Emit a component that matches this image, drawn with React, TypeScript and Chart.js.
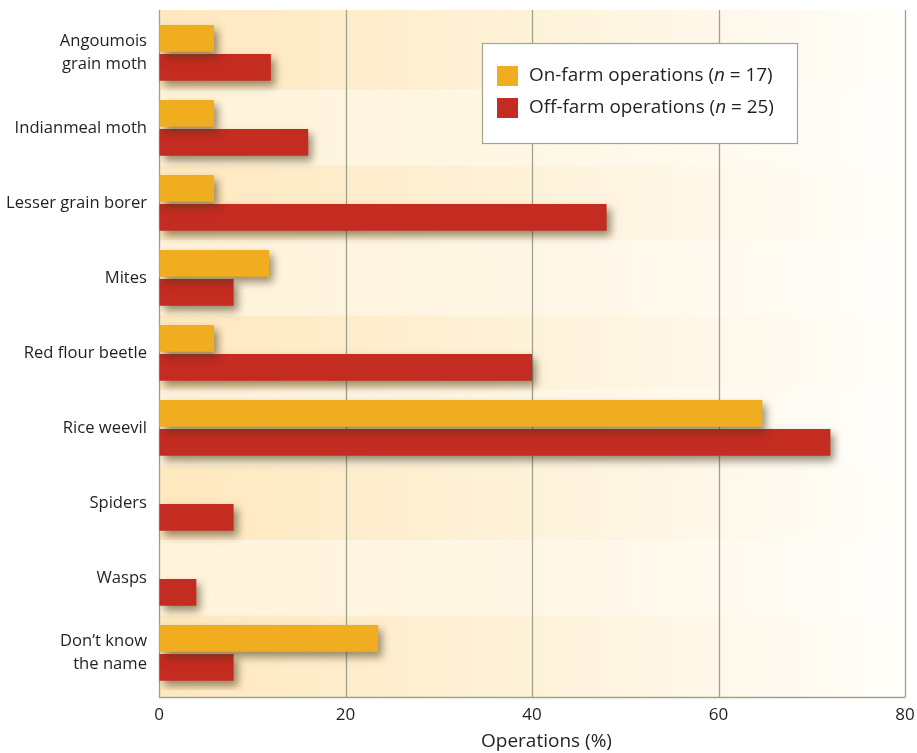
import React, { useEffect, useRef } from "react";
import { Chart, registerables } from "chart.js";

Chart.register(...registerables);

const categories: (string | string[])[] = [
  ["Angoumois", "grain moth"],
  "Indianmeal moth",
  "Lesser grain borer",
  "Mites",
  "Red flour beetle",
  "Rice weevil",
  "Spiders",
  "Wasps",
  ["Don\u2019t know", "the name"],
];
const onFarm = [5.9, 5.9, 5.9, 11.8, 5.9, 64.7, 0, 0, 23.5];
const offFarm = [12, 16, 48, 8, 40, 72, 8, 4, 8];
const seriesNames = ["On-farm operations", "Off-farm operations"];
const seriesN = [17, 25];
const seriesColors = ["#F0AD20", "#C42B21"];
const xTicks = [0, 20, 40, 60, 80];
const xTitle = "Operations (%)";

const FONT = '"Open Sans", "DejaVu Sans", sans-serif';

const decorPlugin = {
  id: "decor",
  beforeDatasetsDraw(chart: any) {
    const { ctx, chartArea: ca, scales } = chart;
    const x = scales.x;
    const y = scales.y;
    const top = ca.top - 5.3;
    const bottom = ca.bottom + 6.7;
    const left = x.getPixelForValue(xTicks[0]);
    const right = x.getPixelForValue(xTicks[xTicks.length - 1]);
    const n = categories.length;
    const half = (y.getPixelForValue(1) - y.getPixelForValue(0)) / 2;
    ctx.save();
    for (let i = 0; i < n; i++) {
      const c = y.getPixelForValue(i);
      const t = i === 0 ? top : c - half;
      const b = i === n - 1 ? bottom : c + half;
      const g = ctx.createLinearGradient(left, 0, right, 0);
      if (i % 2 === 0) {
        g.addColorStop(0, "#FEE8BE");
        g.addColorStop(0.45, "#FEF1D6");
        g.addColorStop(0.75, "#FFF8EA");
        g.addColorStop(1, "#FFFEFA");
      } else {
        g.addColorStop(0, "#FFF3DA");
        g.addColorStop(0.45, "#FFF6E4");
        g.addColorStop(0.75, "#FFFAEF");
        g.addColorStop(1, "#FFFEFB");
      }
      ctx.fillStyle = g;
      ctx.fillRect(left, t, right - left, b - t);
    }
    ctx.strokeStyle = "#9DA28A";
    ctx.lineWidth = 1.3;
    xTicks.forEach((v) => {
      const px = Math.round(x.getPixelForValue(v)) + 0.5;
      ctx.beginPath();
      ctx.moveTo(px, top);
      ctx.lineTo(px, bottom);
      ctx.stroke();
    });
    ctx.beginPath();
    ctx.moveTo(left, Math.round(bottom) + 0.5);
    ctx.lineTo(right + 0.5, Math.round(bottom) + 0.5);
    ctx.stroke();
    ctx.restore();
  },
  beforeDatasetDraw(chart: any) {
    const ctx = chart.ctx;
    ctx.save();
    ctx.shadowColor = "rgba(70, 55, 20, 0.55)";
    ctx.shadowBlur = 8;
    ctx.shadowOffsetX = 4;
    ctx.shadowOffsetY = 5;
  },
  afterDatasetDraw(chart: any) {
    chart.ctx.restore();
  },
  afterDraw(chart: any) {
    const ctx = chart.ctx;
    const bx = 482.5, by = 43.5, bw = 315, bh = 100;
    ctx.save();
    ctx.fillStyle = "#FFFFFF";
    ctx.fillRect(bx, by, bw, bh);
    ctx.strokeStyle = "#A3A68F";
    ctx.lineWidth = 1.2;
    ctx.strokeRect(bx, by, bw, bh);
    const rows = [76, 108];
    seriesNames.forEach((name, i) => {
      const cy = rows[i];
      ctx.fillStyle = seriesColors[i];
      ctx.fillRect(497, cy - 10, 21, 20);
      const parts: [string, boolean][] = [
        [name + " (", false],
        ["n", true],
        [" = " + seriesN[i] + ")", false],
      ];
      let tx = 529;
      ctx.textBaseline = "middle";
      ctx.fillStyle = "#231F20";
      parts.forEach(([txt, ital]) => {
        ctx.font = (ital ? "italic " : "") + "18.9px " + FONT;
        ctx.fillText(txt, tx, cy);
        tx += ctx.measureText(txt).width;
      });
    });
    // axis title
    ctx.font = "19px " + FONT;
    ctx.textAlign = "center";
    ctx.textBaseline = "middle";
    ctx.fillStyle = "#231F20";
    ctx.fillText(xTitle, 546.5, 742);
    ctx.restore();
  },
};

export default function App() {
  const ref = useRef<HTMLCanvasElement | null>(null);
  useEffect(() => {
    document.body.style.margin = "0";
    const canvas = ref.current;
    if (!canvas) return;
    const chart = new Chart(canvas, {
      type: "bar",
      data: {
        labels: categories as any,
        datasets: [
          {
            label: seriesNames[0],
            data: onFarm,
            backgroundColor: seriesColors[0],
            categoryPercentage: 0.773,
            barPercentage: 0.92,
          },
          {
            label: seriesNames[1],
            data: offFarm,
            backgroundColor: seriesColors[1],
            categoryPercentage: 0.773,
            barPercentage: 0.92,
          },
        ],
      },
      options: {
        indexAxis: "y",
        animation: false,
        responsive: false,
        devicePixelRatio: 1,
        layout: { padding: { top: 15.3, right: 12, left: 0, bottom: 0 } },
        plugins: {
          legend: { display: false },
          tooltip: { enabled: false },
        },
        scales: {
          x: {
            type: "linear",
            min: xTicks[0],
            max: xTicks[xTicks.length - 1],
            afterFit: (s: any) => {
              s.height = 62.7;
              s.paddingLeft = 0;
              s.paddingRight = 0;
            },
            afterBuildTicks: (s: any) => {
              s.ticks = xTicks.map((v) => ({ value: v }));
            },
            grid: { color: "rgba(0,0,0,0)", drawTicks: false },
            border: { display: false },
            ticks: {
              padding: 15,
              color: "#231F20",
              font: { family: FONT, size: 17 },
            },
            title: { display: false },
          },
          y: {
            type: "category",
            afterFit: (s: any) => {
              s.width = 159;
              s.paddingTop = 0;
              s.paddingBottom = 0;
            },
            grid: { display: false, drawTicks: false },
            border: { display: false },
            ticks: {
              padding: 12,
              color: "#231F20",
              font: { family: FONT, size: 16.6, lineHeight: 1.38 },
            },
          },
        },
      },
      plugins: [decorPlugin],
    } as any);
    return () => chart.destroy();
  }, []);
  return (
    <div style={{ position: "absolute", left: 0, top: 0, width: 917, height: 753 }}>
      <canvas ref={ref} width={917} height={753} style={{ display: "block" }} />
    </div>
  );
}
